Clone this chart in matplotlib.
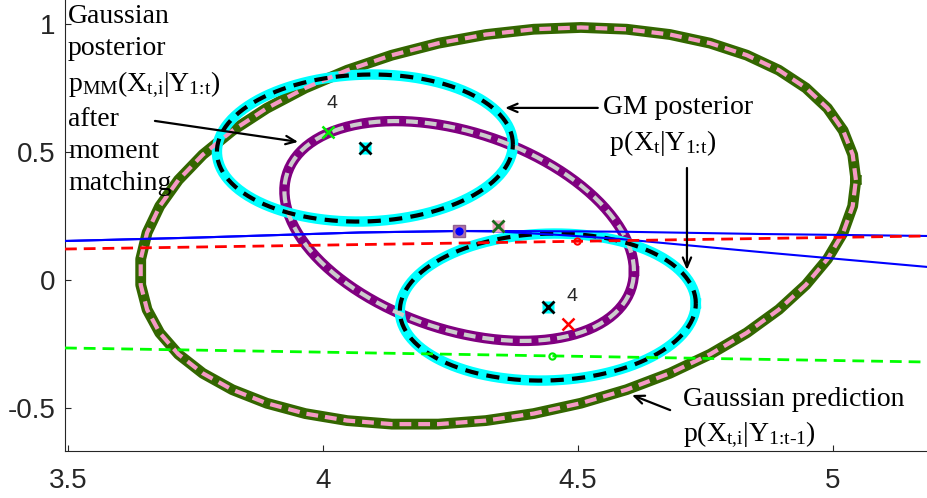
import numpy as np
import matplotlib.pyplot as plt

plt.rcParams['axes.unicode_minus'] = False
plt.rcParams['lines.scale_dashes'] = False
plt.rcParams['mathtext.fontset'] = 'custom'
plt.rcParams['mathtext.rm'] = 'Liberation Serif'
plt.rcParams['mathtext.it'] = 'Liberation Serif:italic'

# Gaussian ellipses: centre, half-width in x and y, correlation
pred_mean = [4.343, 0.210]
pred_size = [0.7025, 0.7766]
pred_rho = 0.232

comp_means = [[4.082, 0.515], [4.441, -0.107]]
comp_size = [0.2904, 0.2876]
comp_rho = 0.05

mm_mean = [4.267, 0.1905]
mm_size = [0.343, 0.430]
mm_rho = -0.365

# curves across the state space
line_x = [3.4935, 3.758, 4.072, 4.267, 4.347, 4.465, 4.583, 4.857, 5.187]
blue_upper = [0.1514, 0.1651, 0.1847, 0.1905, 0.1905, 0.1894, 0.1878, 0.1788, 0.171]
blue_lower = [0.1514, 0.1651, 0.1847, 0.1905, 0.188, 0.1749, 0.1592, 0.1084, 0.0497]
edge_x = [3.4935, 5.187]
red_y = [0.120, 0.171]
green_y = [-0.267, -0.322]

# sample points
green_sample = [4.009, 0.579]
red_sample = [4.481, -0.173]
red_circle = [4.498, 0.151]
green_circle = [4.449, -0.297]
sample_label = '4'

xticks = [3.5, 4, 4.5, 5]
yticks = [-0.5, 0, 0.5, 1]


def ellipse(mean, size, rho, n=120):
    t = np.linspace(0, 2 * np.pi, n)
    x = mean[0] + size[0] * np.cos(t)
    y = mean[1] + size[1] * (rho * np.cos(t) + np.sqrt(1 - rho ** 2) * np.sin(t))
    return x, y


fig = plt.figure(figsize=(9.28, 4.98), dpi=100)
ax = fig.add_axes([65 / 928, 47 / 498, 863 / 928, 451 / 498])

# predicted Gaussian
ex, ey = ellipse(pred_mean, pred_size, pred_rho, n=48)
ax.plot(ex, ey, color='#336600', lw=7.8, zorder=2, solid_joinstyle='round')
ax.plot(ex, ey, color='#f599c4', lw=3, ls=(0, (8.5, 5)), zorder=5)

# moment matched posterior
ex, ey = ellipse(mm_mean, mm_size, mm_rho)
ax.plot(ex, ey, color='#800080', lw=7.5, zorder=3)
ax.plot(ex, ey, color='#cccccc', lw=3, ls=(0, (8.5, 5)), zorder=6)

# mixture components
for m in comp_means:
    ex, ey = ellipse(m, comp_size, comp_rho)
    ax.plot(ex, ey, color='#00ffff', lw=7.5, zorder=4)
    ax.plot(ex, ey, color='black', lw=3, ls=(0, (9.5, 6)), zorder=7)

ax.plot(line_x, blue_upper, color='#0000ff', lw=1.5, zorder=8)
ax.plot(line_x, blue_lower, color='#0000ff', lw=1.5, zorder=8)
ax.plot(edge_x, red_y, color='#ff0000', lw=2, ls=(0, (8.5, 5)), zorder=8)
ax.plot(edge_x, green_y, color='#00ff00', lw=2, ls=(0, (8.5, 5)), zorder=8)

# means
for m in comp_means:
    ax.plot(m[0], m[1], 's', ms=9, mfc='#00ffff', mec='none', zorder=9)
    ax.plot(m[0], m[1], 'x', ms=9, mew=2, color='black', zorder=10)
ax.plot(pred_mean[0], pred_mean[1], 's', ms=9, mfc='#f7a8c8', mec='none', zorder=9)
ax.plot(pred_mean[0], pred_mean[1], 'x', ms=9, mew=2, color='#1d6b1d', zorder=10)
ax.plot(mm_mean[0], mm_mean[1], 's', ms=8, mfc='#b070b0', mec='#906090', zorder=9)
ax.plot(mm_mean[0], mm_mean[1], 'o', ms=5, mfc='#0000ff', mec='#0000ff', zorder=10)

# samples
ax.plot(green_sample[0], green_sample[1], 'x', ms=9, mew=1.8, color='#00ee00', zorder=10)
ax.plot(red_sample[0], red_sample[1], 'x', ms=9, mew=1.8, color='#ff0000', zorder=10)
ax.plot(red_circle[0], red_circle[1], 'o', ms=4.5, mfc='none', mew=1.5, color='#ff0000', zorder=10)
ax.plot(green_circle[0], green_circle[1], 'o', ms=4.5, mfc='none', mew=1.5, color='#00ee00', zorder=10)
for s in (green_sample, red_sample):
    ax.annotate(sample_label, xy=s, xytext=(3, 20), textcoords='offset points',
                ha='center', va='center', fontsize=14, color='#262626',
                family='Liberation Sans', zorder=11)

# annotations
serif = dict(fontsize=20, family='Liberation Serif', color='black', zorder=12)
ax.text(3.4994, 1.078,
        'Gaussian\nposterior\np$_{\\text{MM}}$(X$_{\\text{t,i}}$|Y$_{\\text{1:t}}$)\nafter\nmoment\nmatching',
        ha='left', va='top', linespacing=1.38, **serif)
ax.text(4.549, 0.722, 'GM posterior\n p(X$_{\\text{t}}$|Y$_{\\text{1:t}}$)',
        ha='left', va='top', linespacing=1.35, **serif)
ax.text(4.706, -0.421, 'Gaussian prediction\np(X$_{\\text{t,i}}$|Y$_{\\text{1:t-1}}$)',
        ha='left', va='top', linespacing=1.35, **serif)

arrow = dict(arrowstyle='->,head_length=0.7,head_width=0.3', color='black', lw=1.6,
             shrinkA=0, shrinkB=0)
ax.annotate('', xy=(4.357, 0.672), xytext=(4.539, 0.672), arrowprops=arrow, zorder=12)
ax.annotate('', xy=(4.714, 0.038), xytext=(4.714, 0.437), arrowprops=arrow, zorder=12)
ax.annotate('', xy=(3.951, 0.539), xytext=(3.670, 0.621), arrowprops=arrow, zorder=12)
ax.annotate('', xy=(4.606, -0.451), xytext=(4.681, -0.510), arrowprops=arrow, zorder=12)

ax.set_xlim(3.4935, 5.187)
ax.set_ylim(-0.670, 1.094)
ax.set_xticks(xticks)
ax.set_xticklabels(['3.5', '4', '4.5', '5'])
ax.set_yticks(yticks)
ax.set_yticklabels(['-0.5', '0', '0.5', '1'])
ax.tick_params(direction='in', length=4, width=0.8, colors='#262626', labelsize=20)
ax.tick_params(axis='x', pad=12)
ax.tick_params(axis='y', pad=7)
for lab in ax.get_xticklabels() + ax.get_yticklabels():
    lab.set_family('Liberation Sans')
ax.spines['top'].set_visible(False)
ax.spines['right'].set_visible(False)
ax.spines['left'].set_color('#262626')
ax.spines['bottom'].set_color('#262626')

fig.savefig('out.png', dpi=100)
